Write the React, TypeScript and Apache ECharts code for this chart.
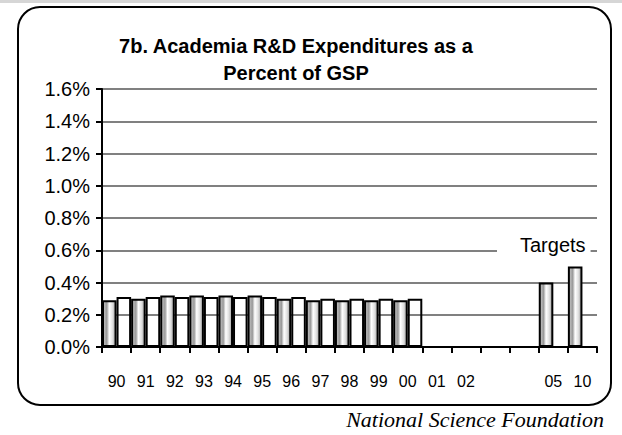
import React, { useEffect, useRef } from "react";
import * as echarts from "echarts";

const categories = ["90", "91", "92", "93", "94", "95", "96", "97", "98", "99", "00", "01", "02", "", "", "05", "10"];
const academiaShare = [0.29, 0.3, 0.32, 0.32, 0.32, 0.32, 0.3, 0.29, 0.29, 0.29, 0.29, null, null, null, null, 0.4, 0.5];
const referenceShare = [0.31, 0.31, 0.31, 0.31, 0.31, 0.31, 0.31, 0.3, 0.3, 0.3, 0.3, null, null, null, null, null, null];
const yMin = 0;
const yMax = 1.6;
const yStep = 0.2;
const titleText = "7b. Academia R&D Expenditures as a\nPercent of GSP";
const targetsLabel = "Targets";
const sourceText = "National Science Foundation";

export default function App() {
  const ref = useRef<HTMLDivElement>(null);
  useEffect(() => {
    if (!ref.current) return;
    const chart = echarts.init(ref.current, null, { renderer: "svg" });
    const sans = "'Liberation Sans', Arial, sans-serif";
    chart.setOption({
      animation: false,
      backgroundColor: "#ffffff",
      grid: { left: 102, right: 25, top: 89, bottom: 88 },
      xAxis: {
        type: "category",
        data: categories,
        boundaryGap: true,
        axisLine: { show: true, lineStyle: { color: "#000", width: 2 } },
        axisTick: { show: true, interval: 0, length: 6, lineStyle: { color: "#000", width: 2 } },
        axisLabel: { interval: 0, fontSize: 16, color: "#000", fontFamily: sans, margin: 26 },
        splitLine: { show: false },
      },
      yAxis: {
        type: "value",
        min: yMin,
        max: yMax,
        interval: yStep,
        axisLine: { show: true, lineStyle: { color: "#000", width: 2 } },
        axisTick: { show: true, length: 6, lineStyle: { color: "#000", width: 2 } },
        axisLabel: {
          fontSize: 20,
          color: "#000",
          fontFamily: sans,
          margin: 12,
          formatter: (v: number) => v.toFixed(1) + "%",
        },
        splitLine: { show: true, lineStyle: { color: "#808080", width: 2 } },
      },
      series: [
        {
          name: "Academia",
          type: "bar",
          data: academiaShare,
          barGap: "0%",
          barCategoryGap: "0%",
          itemStyle: {
            color: {
              type: "linear",
              x: 0,
              y: 0,
              x2: 1,
              y2: 0,
              colorStops: [
                { offset: 0, color: "#c8c8c8" },
                { offset: 0.3, color: "#9a9a9a" },
                { offset: 0.5, color: "#ffffff" },
                { offset: 0.75, color: "#e0e0e0" },
                { offset: 1, color: "#a0a0a0" },
              ],
            },
            borderColor: "#000",
            borderWidth: 2,
          },
        },
        {
          name: "Reference",
          type: "bar",
          data: referenceShare,
          barGap: "0%",
          barCategoryGap: "0%",
          itemStyle: { color: "none", opacity: 1, borderColor: "#000", borderWidth: 2 },
        },
      ],
      graphic: [
        { type: "rect", left: 0, top: 0, shape: { width: 622, height: 3 }, style: { fill: "#d6d6d6" }, silent: true },
        {
          type: "rect",
          x: 18,
          y: 7,
          shape: { width: 593, height: 398, r: 22 },
          style: { fill: "none", stroke: "#000", lineWidth: 2 },
          silent: true,
          z: 10,
        },
        {
          type: "text",
          x: 296,
          y: 32,
          style: {
            text: titleText,
            font: "bold 20px 'Liberation Sans', Arial, sans-serif",
            fill: "#000",
            textAlign: "center",
            textVerticalAlign: "top",
            lineHeight: 27,
          },
          z: 10,
        },
        {
          type: "text",
          x: 497,
          y: 245,
          style: {
            text: targetsLabel,
            font: "20px 'Liberation Sans', Arial, sans-serif",
            fill: "#000",
            textAlign: "left",
            textVerticalAlign: "middle",
            backgroundColor: "#ffffff",
            padding: [3, 5, 3, 23],
          },
          z: 10,
        },
        {
          type: "text",
          x: 604,
          y: 430,
          style: {
            text: sourceText,
            font: "italic 22px 'Liberation Serif', 'Times New Roman', serif",
            fill: "#000",
            textAlign: "right",
            textVerticalAlign: "bottom",
          },
          z: 10,
        },
      ],
    });
    return () => chart.dispose();
  }, []);
  return (
    <div
      ref={ref}
      style={{ position: "fixed", left: 0, top: 0, width: 622, height: 435, background: "#fff" }}
    />
  );
}
